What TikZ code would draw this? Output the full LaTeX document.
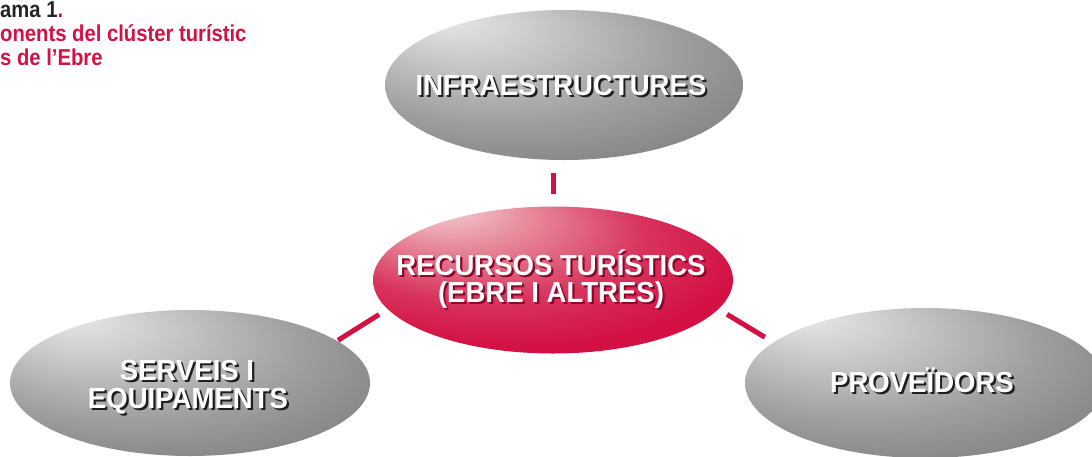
\documentclass[tikz,border=0pt]{standalone}
\usepackage{fontspec}
\newfontfamily\labfont{Liberation Sans}[FakeStretch=0.95]
\newfontfamily\titfont{Liberation Sans}[FakeStretch=0.88]
\usetikzlibrary{shapes.geometric}
\definecolor{crimson}{RGB}{211,17,69}
\definecolor{titledark}{RGB}{40,36,38}
\definecolor{gA}{RGB}{232,232,232}
\definecolor{gB}{RGB}{208,208,209}
\definecolor{gC}{RGB}{160,160,162}
\definecolor{gD}{RGB}{126,126,129}
\definecolor{gE}{RGB}{102,102,106}
\definecolor{rA}{RGB}{246,218,222}
\definecolor{rB}{RGB}{232,140,156}
\definecolor{rC}{RGB}{216,52,94}
\definecolor{rD}{RGB}{211,17,69}
\definecolor{greyshadow}{RGB}{30,30,32}
\definecolor{redshadow}{RGB}{140,8,40}
\pgfdeclareradialshading{greyball}{\pgfpoint{-17bp}{23bp}}{color(0bp)=(gA); color(8bp)=(gB); color(24bp)=(gC); color(38bp)=(gD); color(50bp)=(gE)}
\pgfdeclareradialshading{redball}{\pgfpoint{-17bp}{27bp}}{color(0bp)=(rA); color(10bp)=(rB); color(22bp)=(rC); color(32bp)=(rD); color(50bp)=(rD)}
\newcommand\shadowed[2]{\makebox[0pt][l]{\kern2.2pt\raisebox{-2.2pt}{\textcolor{#1}{#2}}}\textcolor{white}{#2}}
\tikzset{
  ell/.style={ellipse, inner sep=0pt, draw=none},
  greyell/.style={ell, shading=greyball},
  redell/.style={ell, shading=redball},
  lab/.style={anchor=base, inner sep=0pt, font=\labfont\bfseries\fontsize{29}{33}\selectfont},
  conn/.style={draw=crimson, line width=5pt},
  titletext/.style={anchor=base west, inner sep=0pt, font=\titfont\bfseries\fontsize{23}{27}\selectfont},
}
\begin{document}
\begin{tikzpicture}[x=1pt,y=-1pt]
\useasboundingbox (0,0) rectangle (1092,456);
\clip (0,0) rectangle (1092,456);
% ellipses
\node[greyell, minimum width=358pt, minimum height=150pt] (infra) at (564,85) {};
\node[redell, minimum width=360pt, minimum height=147pt] (rec) at (553,280) {};
\node[greyell, minimum width=360pt, minimum height=146pt] (serv) at (190,383) {};
\node[greyell, minimum width=360pt, minimum height=150pt] (prov) at (925,383) {};
% connectors
\draw[conn, shorten <=13pt, shorten >=12pt] (infra.south -| rec.north) -- (rec.north);
\draw[conn, shorten <=1pt, shorten >=10pt] (serv.16) -- (rec.190);
\draw[conn, shorten <=10pt, shorten >=10pt] (rec.-10) -- (prov.165);
% labels
\node[lab] (linfra) at (561,95) {\shadowed{greyshadow}{INFRAESTRUCTURES}};
\node[lab] (lrec1) at (551,275) {\shadowed{redshadow}{RECURSOS TURÍSTICS}};
\node[lab] (lrec2) at (551,302) {\shadowed{redshadow}{(EBRE I ALTRES)}};
\node[lab] (lserv1) at (187,380) {\shadowed{greyshadow}{SERVEIS I}};
\node[lab] (lserv2) at (188,408) {\shadowed{greyshadow}{EQUIPAMENTS}};
\node[lab] (lprov) at (922,392) {\shadowed{greyshadow}{PROVEÏDORS}};
% title
\node[titletext] (t1) at (0,17.5) {\textcolor{titledark}{ama 1}\textcolor{crimson}{.}};
\node[titletext, text=crimson] (t2) at (0,41) {onents del clúster turístic};
\node[titletext, text=crimson] (t3) at (0,65) {s de l’Ebre};
\end{tikzpicture}
\end{document}
